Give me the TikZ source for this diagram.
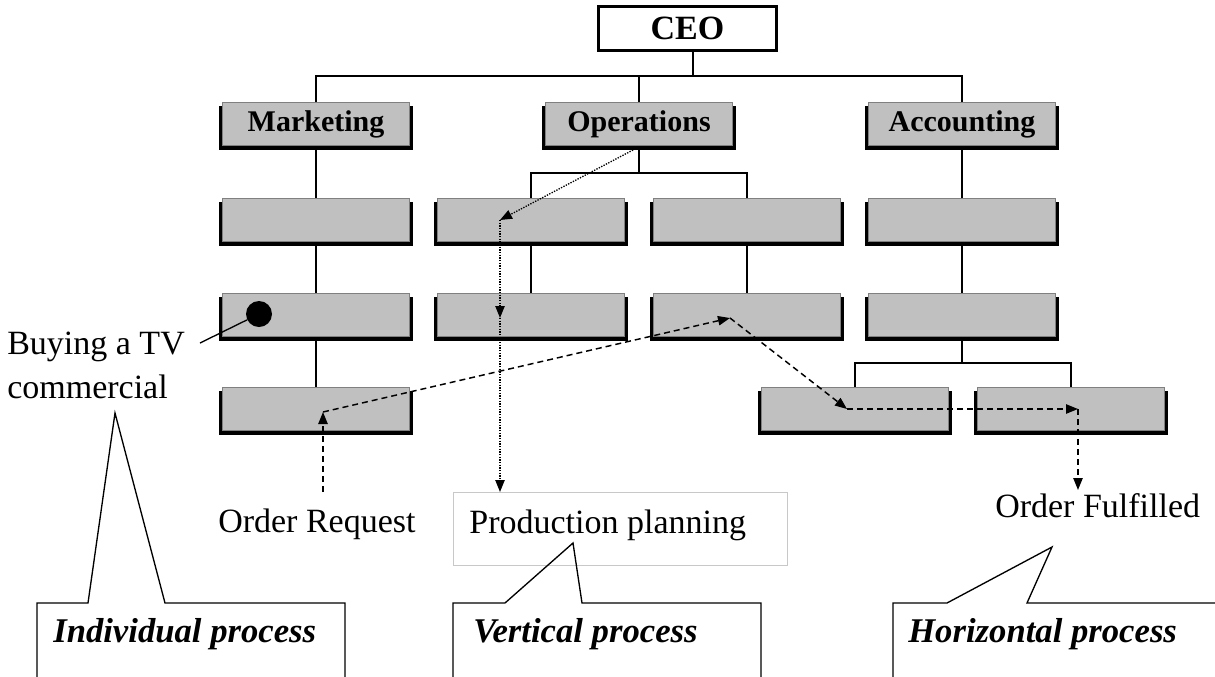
\documentclass[tikz,border=0pt]{standalone}
\usepackage{fontspec}
\setmainfont{Liberation Serif}
\usepackage{xcolor}
\usetikzlibrary{arrows.meta}

\definecolor{boxgray}{RGB}{192,192,192}
\definecolor{boxline}{RGB}{128,128,128}
\definecolor{planline}{RGB}{200,200,200}

\tikzset{
  unitbox/.style={rectangle, fill=boxgray, draw=boxline, line width=0.6pt,
    minimum width=140pt, minimum height=32.5pt, inner sep=0pt,
    font=\fontsize{22.5}{27}\selectfont\bfseries,
    preaction={fill=black, transform canvas={xshift=-2.5pt,yshift=-3pt}},
    preaction={fill=black, transform canvas={xshift=2.5pt,yshift=-3pt}}},
  ceobox/.style={rectangle, fill=white, draw=black, line width=2pt,
    minimum width=133.5pt, minimum height=33pt, inner sep=0pt,
    font=\fontsize{25.5}{30}\selectfont\bfseries},
  orgline/.style={line width=1pt},
  vflow/.style={line width=1pt, dash pattern=on 1pt off 1pt, -{Triangle[length=9pt,width=7pt]}},
  hflow/.style={line width=1.1pt, dash pattern=on 4.5pt off 3pt, -{Triangle[length=9pt,width=7pt]}},
  plain/.style={font=\fontsize{25.5}{30}\selectfont, inner sep=0pt},
  tag/.style={font=\fontsize{26}{30}\selectfont\bfseries\itshape, inner sep=0pt},
  callout/.style={line width=1pt},
}

\begin{document}
\begin{tikzpicture}[x=0.75pt,y=0.75pt,yscale=-1,xscale=1]
\useasboundingbox (0,0) rectangle (1215,676);
\clip (0,0) rectangle (1215,676);

%CEO and departments
\node[ceobox] (ceo) at (687.5,28.5) {CEO};
\node[unitbox] (mkt) at (316,124) {Marketing};
\node[unitbox] (ops) at (639,124) {Operations};
\node[unitbox] (acc) at (962,124) {Accounting};

%second row
\node[unitbox] (m1) at (316,220) {};
\node[unitbox] (o1) at (531,220) {};
\node[unitbox] (o2) at (747,220) {};
\node[unitbox] (a1) at (962,220) {};
%third row
\node[unitbox] (m2) at (316,315) {};
\node[unitbox] (o3) at (531,315) {};
\node[unitbox] (o4) at (747,315) {};
\node[unitbox] (a2) at (962,315) {};
%fourth row
\node[unitbox] (m3) at (316,409) {};
\node[unitbox] (f1) at (855,409) {};
\node[unitbox] (f2) at (1071,409) {};

%org lines
\coordinate (bus) at (693,76);
\draw[orgline] (bus |- ceo.south) -- (bus);
\draw[orgline] (mkt) |- (bus) -| (acc);
\draw[orgline] (ops) |- (bus);
\draw[orgline] (mkt) -- (m1) -- (m2) -- (m3);
\coordinate (opsbus) at (639,173);
\draw[orgline] (ops) -- (opsbus);
\draw[orgline] (o1) |- (opsbus) -| (o2);
\draw[orgline] (o1) -- (o3);
\draw[orgline] (o2) -- (o4);
\draw[orgline] (acc) -- (a1) -- (a2);
\coordinate (accbus) at (962,363);
\draw[orgline] (a2) -- (accbus);
\draw[orgline] (f1) |- (accbus) -| (f2);

%individual process
\node[circle, fill=black, inner sep=0pt, minimum size=19.5pt] (tvdot) at (259,314) {};
\node[plain, anchor=base west] (buytv) at (7,354) {Buying a TV};
\node[plain, anchor=base west] (tvcom) at (7,398) {commercial};
\coordinate (buyend) at (200,343);
\draw[orgline] (buyend) -- (tvdot);

% Text Node
\node[plain, anchor=base west] (ordreq) at (218,532) {Order Request};
\node[plain, draw=planline, line width=0.6pt, anchor=north west, inner xsep=12pt,
  text width=226.5pt, text height=12pt, minimum height=54.75pt, align=flush left] (plan) at (453,492) {Production planning};
\node[plain, anchor=base west] (ordful) at (995,517) {Order Fulfilled};

%vertical process
\coordinate (v0) at (633,150);
\coordinate (v1) at (500,220);
\coordinate (v2) at (500,318);
\draw[vflow] (v0) -- (v1);
\draw[vflow] (v1) -- (v2);
\draw[vflow] (v2) -- (v1 |- plan.north);

%horizontal process
\coordinate (h0) at (323,492);
\coordinate (h1) at (323,412);
\coordinate (h2) at (730,318);
\coordinate (h3) at (847,409);
\coordinate (h4) at (1078,409);
\coordinate (h5) at (1078,490);
\draw[hflow] (h0) -- (h1);
\draw[hflow] (h1) -- (h2);
\draw[hflow] (h2) -- (h3);
\draw[hflow] (h3) -- (h4);
\draw[hflow] (h4) -- (h5);

%callouts
\coordinate (indtip) at (115,413);
\draw[callout] (37,690) -- (37,603) -- (88,603) -- (indtip) -- (165,603) -- (345,603) -- (345,690);
\node[tag, anchor=base west] (indiv) at (53,642) {Individual process};

\coordinate (verttip) at (573,543);
\draw[callout] (453,690) -- (453,603) -- (505,603) -- (verttip) -- (582,603) -- (761,603) -- (761,690);
\node[tag, anchor=base west] (vert) at (473,642) {Vertical process};

\coordinate (hortip) at (1052,547);
\draw[callout] (893,690) -- (893,603) -- (947,603) -- (hortip) -- (1027,603) -- (1230,603);
\node[tag, anchor=base west] (horiz) at (908,642) {Horizontal process};

\end{tikzpicture}
\end{document}
